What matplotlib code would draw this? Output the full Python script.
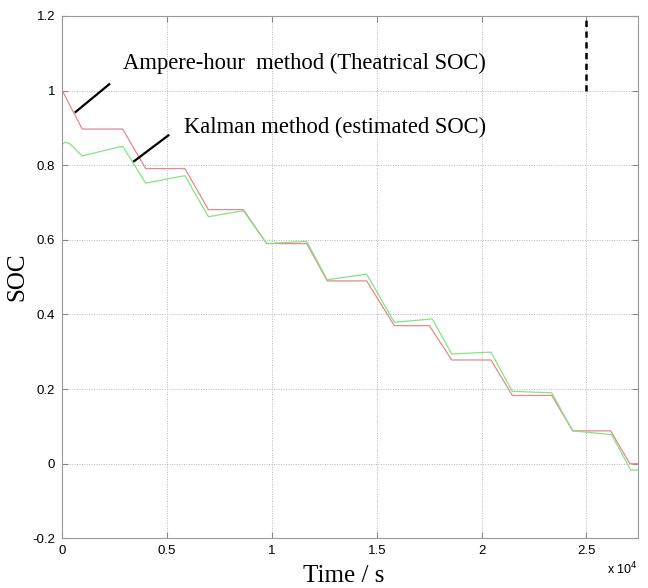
import matplotlib
matplotlib.use('Agg')
import matplotlib.pyplot as plt
from matplotlib.ticker import FuncFormatter

# Ampere-hour (theoretical) SOC, time in seconds
ah_time = [0, 950, 2880, 3980, 5850, 6970, 8640, 9750, 11660, 12640, 14520,
           15840, 17510, 18580, 20450, 21470, 23350, 24350, 26160, 27080, 27450]
ah_soc = [1.0, 0.897, 0.897, 0.791, 0.791, 0.681, 0.681, 0.590, 0.590, 0.490, 0.490,
          0.370, 0.370, 0.278, 0.278, 0.183, 0.183, 0.088, 0.088, 0.0, 0.0]

# Kalman estimated SOC
kf_time = [0, 150, 400, 700, 950, 2880, 3980, 5850, 6970, 8640, 9750, 11660,
           12640, 14520, 15840, 17650, 18580, 20450, 21470, 23350, 24350, 26200,
           27120, 27450]
kf_soc = [0.856, 0.862, 0.856, 0.838, 0.825, 0.851, 0.752, 0.772, 0.662, 0.678,
          0.590, 0.596, 0.493, 0.508, 0.379, 0.388, 0.294, 0.299, 0.194, 0.190,
          0.088, 0.078, -0.017, -0.017]

# pointer lines for the two labels
ptr_ah_t = [640, 2240]
ptr_ah_s = [0.943, 1.017]
ptr_kf_t = [3430, 5060]
ptr_kf_s = [0.811, 0.880]

# dashed marker line near the top
dash_t = [25000, 25000]
dash_s = [1.0, 1.2]

xticks = [0, 5000, 10000, 15000, 20000, 25000]
yticks = [-0.2, 0, 0.2, 0.4, 0.6, 0.8, 1.0, 1.2]

serif = ['Liberation Serif', 'DejaVu Serif']
sans = ['Liberation Sans', 'DejaVu Sans']

fig = plt.figure(figsize=(6.48, 5.88), dpi=100)
ax = fig.add_axes([0.0961, 0.0845, 0.888, 0.8883])

ax.plot(ah_time, ah_soc, color='#e38a8a', lw=0.9)
ax.plot(kf_time, kf_soc, color='#86e386', lw=0.9)
ax.plot(ptr_ah_t, ptr_ah_s, color='black', lw=1.6)
ax.plot(ptr_kf_t, ptr_kf_s, color='black', lw=1.6)
ax.plot(dash_t, dash_s, color='black', lw=1.8, ls=(0, (2.5, 1.8)))

ax.text(2880, 1.059, 'Ampere-hour  method (Theatrical SOC)', family=serif,
        fontsize=16.3, va='baseline', ha='left')
ax.text(5810, 0.885, 'Kalman method (estimated SOC)', family=serif,
        fontsize=16.3, va='baseline', ha='left')

ax.set_xlim(0, 27450)
ax.set_ylim(-0.2, 1.2)
ax.set_xticks(xticks)
ax.set_yticks(yticks)
ax.xaxis.set_major_formatter(FuncFormatter(lambda v, p: f'{v / 1e4:g}'))
ax.yaxis.set_major_formatter(FuncFormatter(lambda v, p: f'{v:g}'))

ax.grid(True, color='#b8b8b8', ls=(0, (1, 1.5)), lw=0.7)
ax.tick_params(direction='in', length=4, color='#888888', top=True, right=True,
               labelsize=9.5, pad=5)
for lab in ax.get_xticklabels() + ax.get_yticklabels():
    lab.set_family(sans)
for s in ax.spines.values():
    s.set_color('#999999')
    s.set_linewidth(0.8)

ax.set_ylabel('SOC', family=serif, fontsize=18, labelpad=3)
fig.text(0.531, 0.002, 'Time / s', family=serif, fontsize=18, ha='center', va='bottom')
fig.text(0.984, 0.018, 'x 10$^4$', family=sans, fontsize=9, ha='right', va='bottom')

fig.savefig('out.png', dpi=100)
